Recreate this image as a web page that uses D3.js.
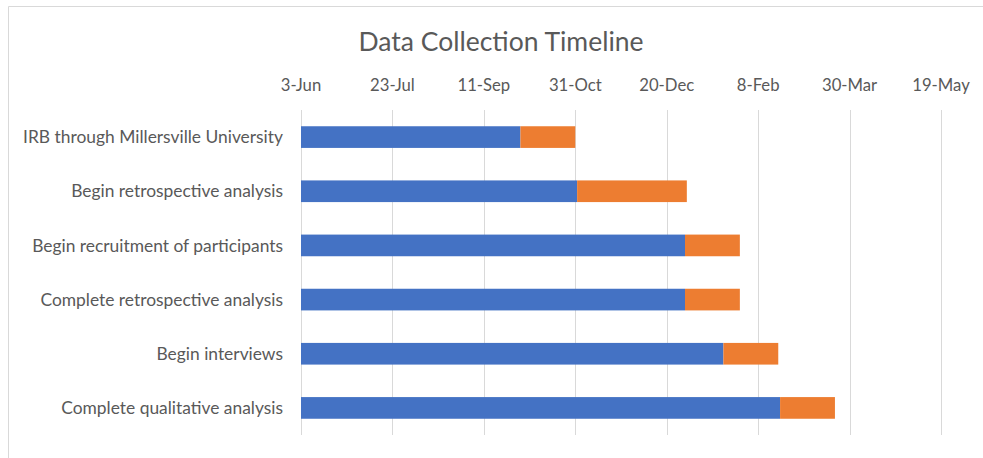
<!DOCTYPE html>
<html>
<head>
<meta charset="utf-8">
<script src="https://cdn.jsdelivr.net/npm/d3@7"></script>
<style>
  body { margin: 0; background: #fff; }
  text { font-family: Lato, "Open Sans", sans-serif; fill: #595959; }
</style>
</head>
<body>
<script>
// tasks, start dates and durations (days)
var tasks = [
  "IRB through Millersville University",
  "Begin retrospective analysis",
  "Begin recruitment of participants",
  "Complete retrospective analysis",
  "Begin interviews",
  "Complete qualitative analysis"
];
var startDates = ["2018-10-01", "2018-11-01", "2018-12-30", "2018-12-30", "2019-01-20", "2019-02-20"];
var durations = [30, 60, 30, 30, 30, 30];
var axisMin = "2018-06-03";
var axisMax = "2019-05-19";
var tickStep = 50; // days

function main() {
  var width = 983, height = 458;
  var parse = d3.timeParse("%Y-%m-%d");

  var svg = d3.select("body").append("svg")
    .attr("width", width)
    .attr("height", height);

  // chart border (top + left visible)
  svg.append("path")
    .attr("d", "M8.5,458 V6.5 H983")
    .attr("fill", "none")
    .attr("stroke", "#d9d9d9")
    .attr("stroke-width", 1);

  svg.append("text")
    .attr("x", 501)
    .attr("y", 51)
    .attr("text-anchor", "middle")
    .style("font-size", "26.5px")
    .text("Data Collection Timeline");

  var x = d3.scaleTime()
    .domain([parse(axisMin), parse(axisMax)])
    .range([301, 941]);

  var y = d3.scaleBand()
    .domain(tasks)
    .range([110, 435])
    .paddingInner(0.6)
    .paddingOuter(0.3);

  var ticks = d3.range(0, 351, tickStep).map(function (d) {
    return d3.timeDay.offset(parse(axisMin), d);
  });

  // gridlines
  svg.append("g")
    .selectAll("line")
    .data(ticks)
    .enter()
    .append("line")
    .attr("x1", function (d) { return Math.round(x(d)) + 0.5; })
    .attr("x2", function (d) { return Math.round(x(d)) + 0.5; })
    .attr("y1", 110)
    .attr("y2", 435)
    .attr("stroke", "#d9d9d9");

  // top axis labels
  var fmt = d3.timeFormat("%-d-%b");
  svg.append("g")
    .selectAll("text")
    .data(ticks)
    .enter()
    .append("text")
    .attr("x", function (d) { return x(d); })
    .attr("y", 91)
    .attr("text-anchor", "middle")
    .style("font-size", "16.7px")
    .text(function (d) { return fmt(d); });

  // category labels
  svg.append("g")
    .selectAll("text")
    .data(tasks)
    .enter()
    .append("text")
    .attr("x", 283)
    .attr("y", function (d) { return y(d) + y.bandwidth() / 2; })
    .attr("dy", ".35em")
    .attr("text-anchor", "end")
    .style("font-size", "17.4px")
    .text(function (d) { return d; });

  var rows = tasks.map(function (t, i) {
    var s = parse(startDates[i]);
    return { task: t, start: s, end: d3.timeDay.offset(s, durations[i]) };
  });

  var bars = svg.append("g")
    .selectAll("g")
    .data(rows)
    .enter()
    .append("g");

  // blue = start date
  bars.append("rect")
    .attr("x", x(parse(axisMin)))
    .attr("y", function (d) { return y(d.task); })
    .attr("width", function (d) { return x(d.start) - x(parse(axisMin)); })
    .attr("height", y.bandwidth())
    .attr("fill", "#4472c4");

  // orange = duration
  bars.append("rect")
    .attr("x", function (d) { return x(d.start); })
    .attr("y", function (d) { return y(d.task); })
    .attr("width", function (d) { return x(d.end) - x(d.start); })
    .attr("height", y.bandwidth())
    .attr("fill", "#ed7d31");
}
document.addEventListener("DOMContentLoaded", main);
</script>
</body>
</html>
